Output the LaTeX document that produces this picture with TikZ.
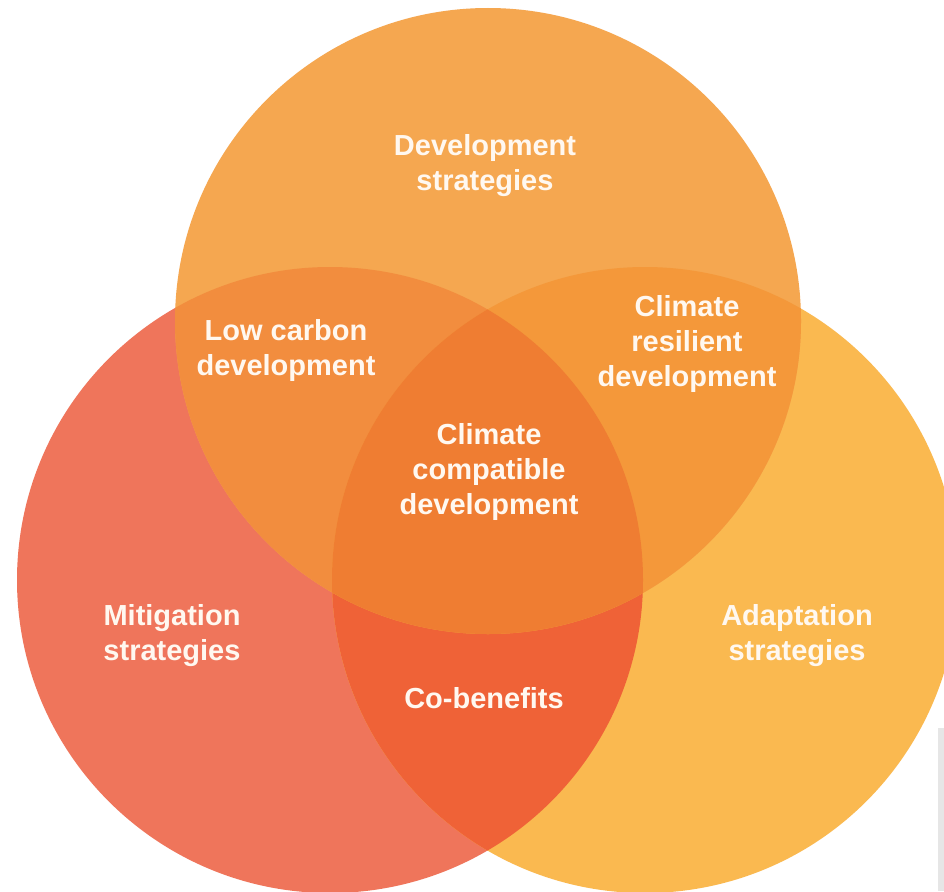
\documentclass[tikz,border=0pt]{standalone}
\usepackage{fontspec}
\setmainfont{Liberation Sans}
\begin{document}
\begin{tikzpicture}[x=1pt,y=-1pt,
  lbl/.style={text=labelwhite,font=\bfseries\fontsize{29}{35}\selectfont,align=center,inner sep=0pt}]
\definecolor{topc}{HTML}{F5A750}
\definecolor{leftc}{HTML}{EF755B}
\definecolor{rightc}{HTML}{FAB950}
\definecolor{tlc}{HTML}{F28D3E}
\definecolor{trc}{HTML}{F4983A}
\definecolor{lrc}{HTML}{EF6237}
\definecolor{allc}{HTML}{EF7D32}
\definecolor{labelwhite}{HTML}{FFF8F0}
\definecolor{edgegrey}{HTML}{E6E6E6}
\tikzset{ring/.style={radius=313pt}}
\useasboundingbox (0,0) rectangle (944,891);
\fill[white] (0,0) rectangle (944,891);
\fill[edgegrey] (938,728) rectangle (944,891);
% circle centres
\coordinate (T) at (488,321);
\coordinate (L) at (330,580);
\coordinate (R) at (645,580);
% single sets
\fill[leftc]  (L) circle[ring];
\fill[rightc] (R) circle[ring];
\fill[topc]   (T) circle[ring];
% left and right only
\begin{scope}
  \clip (L) circle[ring];
  \fill[lrc] (R) circle[ring];
\end{scope}
% top and left
\begin{scope}
  \clip (T) circle[ring];
  \fill[tlc] (L) circle[ring];
\end{scope}
% top and right
\begin{scope}
  \clip (T) circle[ring];
  \fill[trc] (R) circle[ring];
\end{scope}
% all three
\begin{scope}
  \clip (T) circle[ring];
  \clip (L) circle[ring];
  \fill[allc] (R) circle[ring];
\end{scope}
% labels
\node[lbl] (dev) at (485,166) {Development\\strategies};
\node[lbl] (low) at (286,350) {Low carbon\\development};
\node[lbl] (res) at (687,344) {Climate\\resilient\\development};
\node[lbl] (ccd) at (489,472) {Climate\\compatible\\development};
\node[lbl] (mit) at (172,636) {Mitigation\\strategies};
\node[lbl] (ada) at (797,636) {Adaptation\\strategies};
\node[lbl] (cob) at (484,698) {Co-benefits};
\end{tikzpicture}
\end{document}
